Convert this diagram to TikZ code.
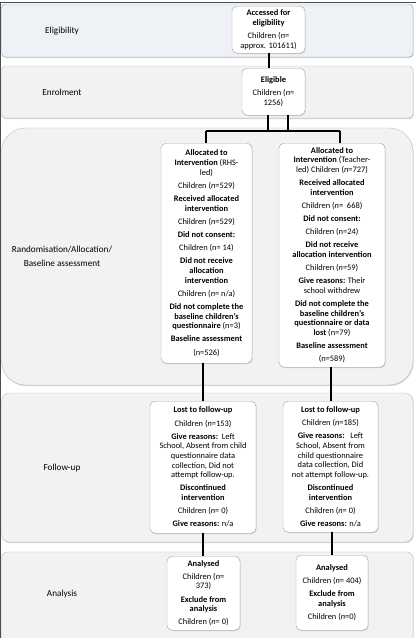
\documentclass[tikz,border=0pt]{standalone}
\usepackage{fontspec}
\setmainfont{Carlito}
\usepackage{tikz}
\usetikzlibrary{shadows}
\definecolor{bandfill}{HTML}{F2F2F2}
\definecolor{bandline}{HTML}{BDBDBD}
\definecolor{elgfill}{HTML}{EEF1F6}
\definecolor{elgline}{HTML}{8FA3C6}
\definecolor{boxline}{HTML}{A3A3A3}
\definecolor{frameline}{HTML}{4D4D4D}
\newcommand{\pg}{\\[3.6pt]}

\begin{document}
\begin{tikzpicture}[
  x=1pt,y=-1pt,
  band/.style={draw=bandline,fill=bandfill,rounded corners=4pt,
    drop shadow={shadow xshift=0.6pt,shadow yshift=-1pt,opacity=0.35}},
  stage/.style={font=\fontsize{9.2}{14}\selectfont,align=center},
  box/.style={draw=boxline,fill=white,rounded corners=5pt,align=center,anchor=north,
    inner sep=1.5pt,font=\fontsize{8.4}{9.6}\selectfont,
    drop shadow={shadow xshift=0.6pt,shadow yshift=-0.8pt,opacity=0.3}},
  link/.style={line width=2pt}
]
\useasboundingbox (0,0) rectangle (416,638);
\fill[white] (0,0) rectangle (416,638);

\draw[band,fill=elgfill,draw=elgline] (1.5,4) rectangle (413,57);
\draw[band] (1.5,66) rectangle (413,118);
\draw[band,rounded corners=24pt] (1.5,128) rectangle (413,385);
\draw[band,rounded corners=8pt] (1.5,393) rectangle (413,542);
\draw[band,rounded corners=6pt] (1.5,552) rectangle (413,648);
\draw[frameline,line width=1pt] (0.5,638) -- (0.5,2.5) -- (416,2.5);

\node[stage] (lelg) at (62,31) {Eligibility};
\node[stage] (lenr) at (62,92) {Enrolment};
\node[stage] (lran) at (62,256) {Randomisation/Allocation/\\Baseline assessment};
\node[stage] (lfup) at (62,468) {Follow-up};
\node[stage] (lana) at (62,594) {Analysis};

\node[box,minimum width=73,minimum height=47] (acc) at (268.5,6)
  {\textbf{Accessed for}\\\textbf{eligibility}\pg Children (\textit{n}=\\approx. 101611)};
\node[box,minimum width=63,minimum height=47] (elig) at (273.5,68)
  {\textbf{Eligible}\pg Children (\textit{n}=\\1256)};

\node[box,minimum width=91,minimum height=220] (rhs) at (206.5,143)
  {\textbf{Allocated to}\\\textbf{Intervention} (RHS-\\led)\pg
   Children (\textit{n}=529)\pg
   \textbf{Received allocated}\\\textbf{intervention}\pg
   Children (\textit{n}=529)\pg
   \textbf{Did not consent:}\pg
   Children (n= 14)\pg
   \textbf{Did not receive}\\\textbf{allocation}\\\textbf{intervention}\pg
   Children (\textit{n}= n/a)\pg
   \textbf{Did not complete the}\\\textbf{baseline children's}\\\textbf{questionnaire} (n=3)\pg
   \textbf{Baseline assessment}\pg
   (n=526)};
\node[box,minimum width=106,minimum height=224] (tch) at (332,143)
  {\textbf{Allocated to}\\\textbf{Intervention} (Teacher-\\led) Children (\textit{n}=727)\pg
   \textbf{Received allocated}\\\textbf{intervention}\pg
   Children (\textit{n}=\ \ 668)\pg
   \textbf{Did not consent:}\pg
   Children (n=24)\pg
   \textbf{Did not receive}\\\textbf{allocation intervention}\pg
   Children (\textit{n}=59)\pg
   \textbf{Give reasons:} Their\\school withdrew\pg
   \textbf{Did not complete the}\\\textbf{baseline children's}\\\textbf{questionnaire or data}\\\textbf{lost} (n=79)\pg
   \textbf{Baseline assessment}\pg
   (n=589)};

\node[box,minimum width=106,minimum height=132] (lostr) at (203,401)
  {\textbf{Lost to follow-up}\pg
   Children (\textit{n}=153)\pg
   \textbf{Give reasons:}\ \ Left\\School, Absent from child\\questionnaire data\\collection, Did not\\attempt follow-up.\pg
   \textbf{Discontinued}\\\textbf{intervention}\pg
   Children (\textit{n}= 0)\pg
   \textbf{Give reasons:} n/a};
\node[box,minimum width=95,minimum height=131] (lostt) at (330.5,401)
  {\textbf{Lost to follow-up}\pg
   Children (\textit{n}=185)\pg
   \textbf{Give reasons:}\ \ \ Left\\School, Absent from\\child questionnaire\\data collection, Did\\not attempt follow-up.\pg
   \textbf{Discontinued}\\\textbf{intervention}\pg
   Children (\textit{n}= 0)\pg
   \textbf{Give reasons:} n/a};

\node[box,minimum width=73,minimum height=74] (anar) at (203.5,556)
  {\textbf{Analysed}\pg Children (\textit{n}=\\373)\pg
   \textbf{Exclude from}\\\textbf{analysis}\pg Children (\textit{n}= 0)};
\node[box,minimum width=72,minimum height=75] (anat) at (332,555)
  {\textbf{Analysed}\pg Children (\textit{n}= 404)\pg
   \textbf{Exclude from}\\\textbf{analysis}\pg Children (\textit{n}=0)};

\coordinate (forkl) at (268,131);
\coordinate (forkr) at (288,131);
\coordinate (splitl) at (206,131);
\coordinate (splitr) at (340,131);

\draw[link] (acc.south) -- (acc.south |- elig.north);
\draw[link] (forkl |- elig.south) -- (forkl);
\draw[link] (forkr |- elig.south) -- (forkr);
\draw[link] (splitl) -- (splitr);
\draw[link] (splitl) -- (splitl |- rhs.north);
\draw[link] (splitr) -- (splitr |- tch.north);
\draw[link] (lostr.north |- rhs.south) -- (lostr.north);
\draw[link] (lostt.north |- tch.south) -- (lostt.north);
\draw[link] (lostr.south) -- (lostr.south |- anar.north);
\draw[link] (anat.north |- lostt.south) -- (anat.north);
\end{tikzpicture}
\end{document}
